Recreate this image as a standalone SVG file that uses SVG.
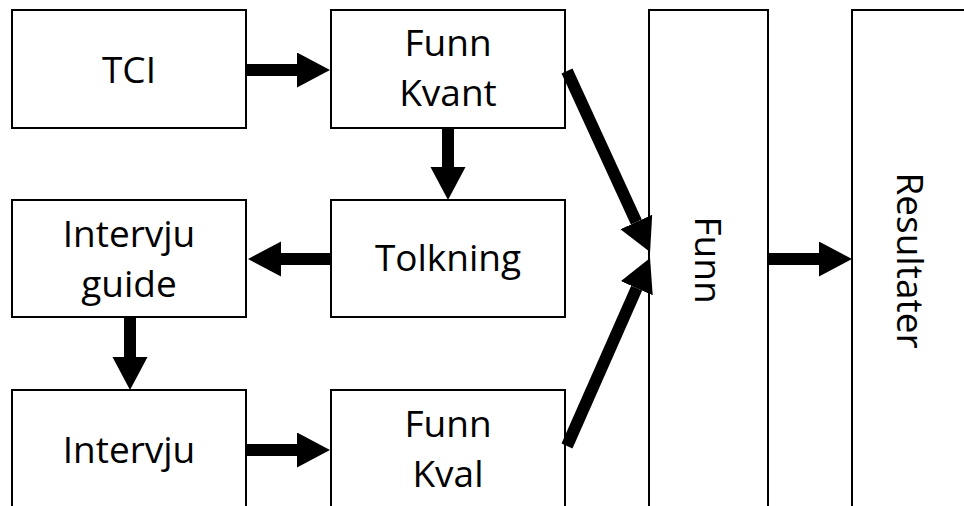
<svg xmlns="http://www.w3.org/2000/svg" width="964" height="506" viewBox="0 0 964 506">
<defs>
<style>
.box{fill:#fff;stroke:#000;stroke-width:2}
.lbl{font-family:"Open Sans","Liberation Sans",sans-serif;font-size:37px;fill:#000;text-anchor:middle}
.arr{stroke:#000;stroke-width:12;fill:none;marker-end:url(#ah)}
</style>
<marker id="ah" markerUnits="userSpaceOnUse" markerWidth="34" markerHeight="36" refX="0" refY="17.5" orient="auto">
<path d="M0,0 L33,17.5 L0,35 z" fill="#000"/>
</marker>
</defs>
<rect x="0" y="0" width="964" height="506" fill="#fff"/>
<g id="tci"><rect class="box" x="12" y="10" width="234" height="118"/><text class="lbl" x="129" y="83">TCI</text></g>
<g id="funn-kvant"><rect class="box" x="331" y="10" width="234" height="118"/><text class="lbl" x="448"><tspan x="448" y="56">Funn</tspan><tspan x="448" y="106">Kvant</tspan></text></g>
<g id="tolkning"><rect class="box" x="331" y="200" width="234" height="117"/><text class="lbl" x="448" y="271">Tolkning</text></g>
<g id="intervju-guide"><rect class="box" x="12" y="200" width="234" height="117"/><text class="lbl" x="129"><tspan x="129" y="247">Intervju</tspan><tspan x="129" y="297">guide</tspan></text></g>
<g id="intervju"><rect class="box" x="12" y="390" width="234" height="125"/><text class="lbl" x="129" y="463">Intervju</text></g>
<g id="funn-kval"><rect class="box" x="331" y="390" width="234" height="125"/><text class="lbl" x="448"><tspan x="448" y="437">Funn</tspan><tspan x="448" y="487">Kval</tspan></text></g>
<g id="funn"><rect class="box" x="649" y="10" width="119" height="505"/><text class="lbl" x="707.5" y="273" transform="rotate(90 707.5 260)">Funn</text></g>
<g id="resultater"><rect class="box" x="852" y="10" width="125" height="505"/><text class="lbl" x="910" y="273.5" transform="rotate(90 910 260.5)">Resultater</text></g>
<g id="connectors">
<line class="arr" x1="246" y1="70" x2="297" y2="70"/>
<line class="arr" x1="448" y1="128" x2="448" y2="167"/>
<line class="arr" x1="331" y1="259" x2="281" y2="259"/>
<line class="arr" x1="130" y1="317" x2="130" y2="357"/>
<line class="arr" x1="246" y1="450" x2="297" y2="450"/>
<line class="arr" x1="768" y1="259" x2="819" y2="259"/>
<line class="arr" x1="567" y1="71" x2="636.3" y2="222"/>
<line class="arr" x1="567" y1="446" x2="636.7" y2="288.2"/>
</g>
</svg>
